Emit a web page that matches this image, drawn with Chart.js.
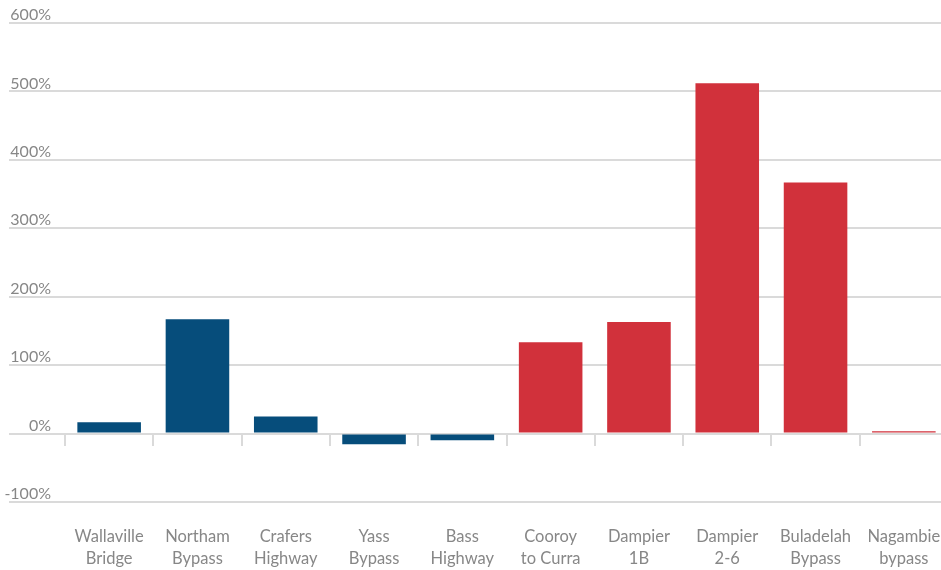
<!DOCTYPE html>
<html>
<head>
<meta charset="utf-8">
<script src="https://cdn.jsdelivr.net/npm/chart.js@4/dist/chart.umd.min.js"></script>
<style>
  html, body { margin: 0; padding: 0; background: #fff; overflow: hidden; }
  #wrap { width: 948px; height: 570px; }
</style>
</head>
<body>
<div id="wrap"><canvas id="myChart" width="948" height="570"></canvas></div>
<script>
// projects along the x axis
const projects = [
    ['Wallaville', 'Bridge'], ['Northam', 'Bypass'], ['Crafers', 'Highway'],
    ['Yass', 'Bypass'], ['Bass', 'Highway'], ['Cooroy', 'to Curra'],
    ['Dampier', '1B'], ['Dampier', '2-6'], ['Buladelah', 'Bypass'], ['Nagambie', 'bypass']
]
// cost overrun, percent
const overrun = [16.5, 167, 25, -15.5, -9.7, 133.5, 163, 512, 367, 3.4]
const yTicks = [-100, 0, 100, 200, 300, 400, 500, 600]

const BLUE = '#064d7b'
const RED = '#d1313b'
const GRID = '#dadada'
const TEXT = '#878787'

function drawChart() {
    const ctx = document.getElementById('myChart')

    const data = {
        labels: projects,
        datasets: [{
            type: 'bar',
            data: overrun,
            backgroundColor: overrun.map((v, i) => i < 5 ? BLUE : RED),
            xAxisID: 'x',
            yAxisID: 'y'
        }]
    }

    const config = {
        type: 'bar',
        data: data,
        options: {
            responsive: false,
            animation: false,
            layout: {padding: {top: 23, left: 0, right: 0, bottom: 2}},
            plugins: {legend: {display: false}, tooltip: {enabled: false}},
            scales: {
                x: {
                    type: 'category',
                    position: 'bottom',
                    offset: true,
                    grid: {display: false, drawTicks: false, offset: true},
                    border: {display: false},
                    afterFit: s => { s.height = 66; s.paddingLeft = 0; s.paddingRight = 0 },
                    ticks: {
                        padding: 24,
                        color: TEXT,
                        maxRotation: 0,
                        autoSkip: false,
                        font: {family: 'Lato', size: 16.5, lineHeight: 1.333}
                    }
                },
                // short tick marks hanging under the zero line
                x0: {
                    type: 'category',
                    position: {y: 0},
                    offset: true,
                    grid: {offset: true, drawOnChartArea: false, tickLength: 12, color: GRID, lineWidth: 2},
                    border: {display: false},
                    afterFit: s => { s.height = 0 },
                    ticks: {display: false}
                },
                y: {
                    position: 'left',
                    min: yTicks[0],
                    max: yTicks[yTicks.length - 1],
                    afterFit: s => { s.width = 65; s.paddingTop = 0; s.paddingBottom = 0 },
                    afterBuildTicks: s => { s.ticks = yTicks.map(v => ({value: v})) },
                    grid: {color: GRID, lineWidth: 2, tickLength: 56},
                    border: {display: false},
                    ticks: {
                        padding: -42,
                        labelOffset: -8,
                        color: TEXT,
                        font: {family: 'Lato', size: 16},
                        callback: v => v + '%'
                    }
                }
            }
        }
    }

    new Chart(ctx, config)
}

document.addEventListener('DOMContentLoaded', drawChart)
</script>
</body>
</html>
